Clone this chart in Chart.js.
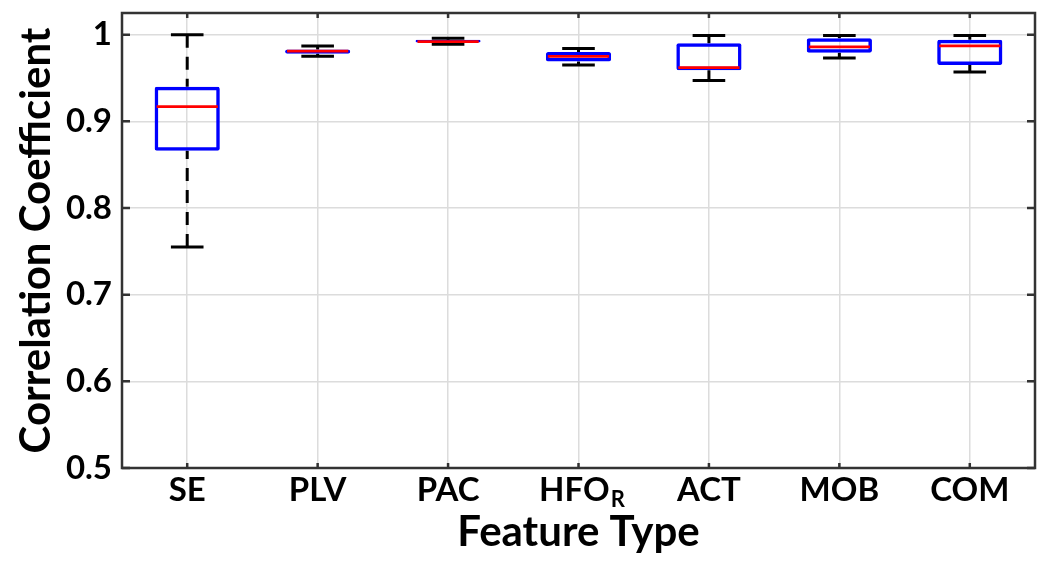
<!DOCTYPE html>
<html>
<head>
<meta charset="utf-8">
<script src="https://cdn.jsdelivr.net/npm/chart.js@4/dist/chart.umd.min.js"></script>
<style>
    body { margin: 0; background: #fff; }
    #wrap { width: 1050px; height: 567px; position: relative; }
</style>
</head>
<body>
<div id="wrap"><canvas id="boxChart"></canvas></div>
<script>
// feature types (HFO carries a subscript R)
const categories = ['SE', 'PLV', 'PAC', 'HFO', 'ACT', 'MOB', 'COM'];
const subscripts = ['', '', '', 'R', '', '', ''];

// box plot statistics
const whiskerLow  = [0.755, 0.975, 0.989, 0.965, 0.947, 0.973, 0.957];
const q1          = [0.866, 0.978, 0.991, 0.969, 0.959, 0.979, 0.965];
const median      = [0.917, 0.981, 0.992, 0.975, 0.962, 0.986, 0.987];
const q3          = [0.940, 0.983, 0.994, 0.980, 0.990, 0.996, 0.994];
const whiskerHigh = [1.000, 0.987, 0.996, 0.984, 0.999, 0.999, 0.999];

const yTicks = [0.5, 0.6, 0.7, 0.8, 0.9, 1.0];
const yTickLabels = ['0.5', '0.6', '0.7', '0.8', '0.9', '1'];

const FONT = 'Lato, "Open Sans", sans-serif';
const TICK_SIZE = 33;

// whiskers + caps behind the boxes, medians on top, MATLAB style frame with inner ticks
const boxExtras = {
    id: 'boxExtras',
    beforeDatasetsDraw(chart) {
        const { ctx, scales: { x, y } } = chart;
        const meta = chart.getDatasetMeta(0);
        ctx.save();
        ctx.strokeStyle = '#000';
        ctx.lineWidth = 3;
        categories.forEach((c, i) => {
            const cx = x.getPixelForValue(i);
            const half = meta.data[i].width / 4;
            // dashed whiskers, dashes start at the caps
            ctx.setLineDash([13, 9]);
            ctx.beginPath();
            ctx.moveTo(cx, y.getPixelForValue(whiskerHigh[i]));
            ctx.lineTo(cx, y.getPixelForValue(q3[i]));
            ctx.moveTo(cx, y.getPixelForValue(whiskerLow[i]));
            ctx.lineTo(cx, y.getPixelForValue(q1[i]));
            ctx.stroke();
            ctx.setLineDash([]);
            ctx.beginPath();
            [whiskerHigh[i], whiskerLow[i]].forEach(v => {
                const py = y.getPixelForValue(v);
                ctx.moveTo(cx - half, py);
                ctx.lineTo(cx + half, py);
            });
            ctx.stroke();
        });
        ctx.restore();
    },
    afterDatasetsDraw(chart) {
        const { ctx, scales: { x, y } } = chart;
        const meta = chart.getDatasetMeta(0);
        ctx.save();
        ctx.strokeStyle = '#ff0000';
        ctx.lineWidth = 2.8;
        categories.forEach((c, i) => {
            const bar = meta.data[i];
            const py = y.getPixelForValue(median[i]);
            ctx.beginPath();
            ctx.moveTo(bar.x - bar.width / 2 + 2, py);
            ctx.lineTo(bar.x + bar.width / 2 - 2, py);
            ctx.stroke();
        });
        ctx.restore();
    },
    afterDraw(chart) {
        const { ctx, chartArea: a, scales: { x, y } } = chart;
        ctx.save();
        ctx.strokeStyle = '#333';
        ctx.lineWidth = 2.5;
        ctx.beginPath();
        yTicks.forEach(v => {
            const py = y.getPixelForValue(v);
            ctx.moveTo(a.left, py); ctx.lineTo(a.left + 8, py);
            ctx.moveTo(a.right, py); ctx.lineTo(a.right - 8, py);
        });
        categories.forEach((c, i) => {
            const px = x.getPixelForValue(i);
            ctx.moveTo(px, a.top); ctx.lineTo(px, a.top + 5);
            ctx.moveTo(px, a.bottom); ctx.lineTo(px, a.bottom - 5);
        });
        ctx.stroke();
        ctx.strokeRect(a.left, a.top, a.right - a.left, a.bottom - a.top);

        // subscripts after the tick labels
        ctx.fillStyle = '#000';
        ctx.textBaseline = 'middle';
        ctx.textAlign = 'left';
        const labelMid = x.top + 3 + TICK_SIZE * 1.2 / 2;
        subscripts.forEach((s, i) => {
            if (!s) return;
            ctx.font = `bold ${TICK_SIZE}px ${FONT}`;
            const w = ctx.measureText(tickText(i)).width;
            const end = x.getPixelForValue(i) + w / 2 - ctx.measureText('\u2009\u2009').width;
            ctx.font = `bold 22px ${FONT}`;
            ctx.fillText(s, end + 1, labelMid + 9);
        });
        ctx.restore();
    }
};

function tickText(i) {
    return subscripts[i] ? categories[i] + '\u2009\u2009' : categories[i];
}

new Chart(document.getElementById('boxChart'), {
    type: 'bar',
    data: {
        labels: categories,
        datasets: [{
            data: q1.map((v, i) => [v, q3[i]]),
            backgroundColor: 'rgba(0,0,0,0)',
            borderColor: '#0000ff',
            borderWidth: 3.5,
            borderSkipped: false,
            borderRadius: 2,
            barPercentage: 0.5,
            categoryPercentage: 1
        }]
    },
    options: {
        responsive: true,
        maintainAspectRatio: false,
        animation: false,
        layout: { padding: { top: 13, right: 15, left: 0, bottom: 0 } },
        plugins: { legend: { display: false }, tooltip: { enabled: false } },
        scales: {
            x: {
                offset: true,
                grid: { offset: false, color: '#dcdcdc', lineWidth: 1.5, drawTicks: false },
                border: { display: false },
                ticks: {
                    padding: 3,
                    color: '#000',
                    font: { family: FONT, size: TICK_SIZE, weight: 'bold' },
                    callback: (v, i) => tickText(i)
                },
                title: {
                    display: true,
                    text: 'Feature Type',
                    color: '#000',
                    padding: { top: 0, bottom: 9 },
                    font: { family: FONT, size: 42, weight: 'bold' }
                },
                afterFit: s => { s.height = 99; s.paddingLeft = 0; s.paddingRight = 0; }
            },
            y: {
                min: 0.5,
                max: 1.025,
                grid: { color: '#dcdcdc', lineWidth: 1.5, drawTicks: false },
                border: { display: false },
                afterBuildTicks: s => { s.ticks = yTicks.map(v => ({ value: v })); },
                ticks: {
                    padding: 10,
                    color: '#000',
                    font: { family: FONT, size: TICK_SIZE, weight: 'bold' },
                    callback: v => yTickLabels[yTicks.findIndex(t => Math.abs(t - v) < 1e-9)]
                },
                title: {
                    display: true,
                    text: 'Correlation Coefficient',
                    color: '#000',
                    padding: { top: 11, bottom: 0 },
                    font: { family: FONT, size: 42, weight: 'bold' }
                },
                afterFit: s => { s.width = 122; s.paddingTop = 0; s.paddingBottom = 0; }
            }
        }
    },
    plugins: [boxExtras]
});
</script>
</body>
</html>
